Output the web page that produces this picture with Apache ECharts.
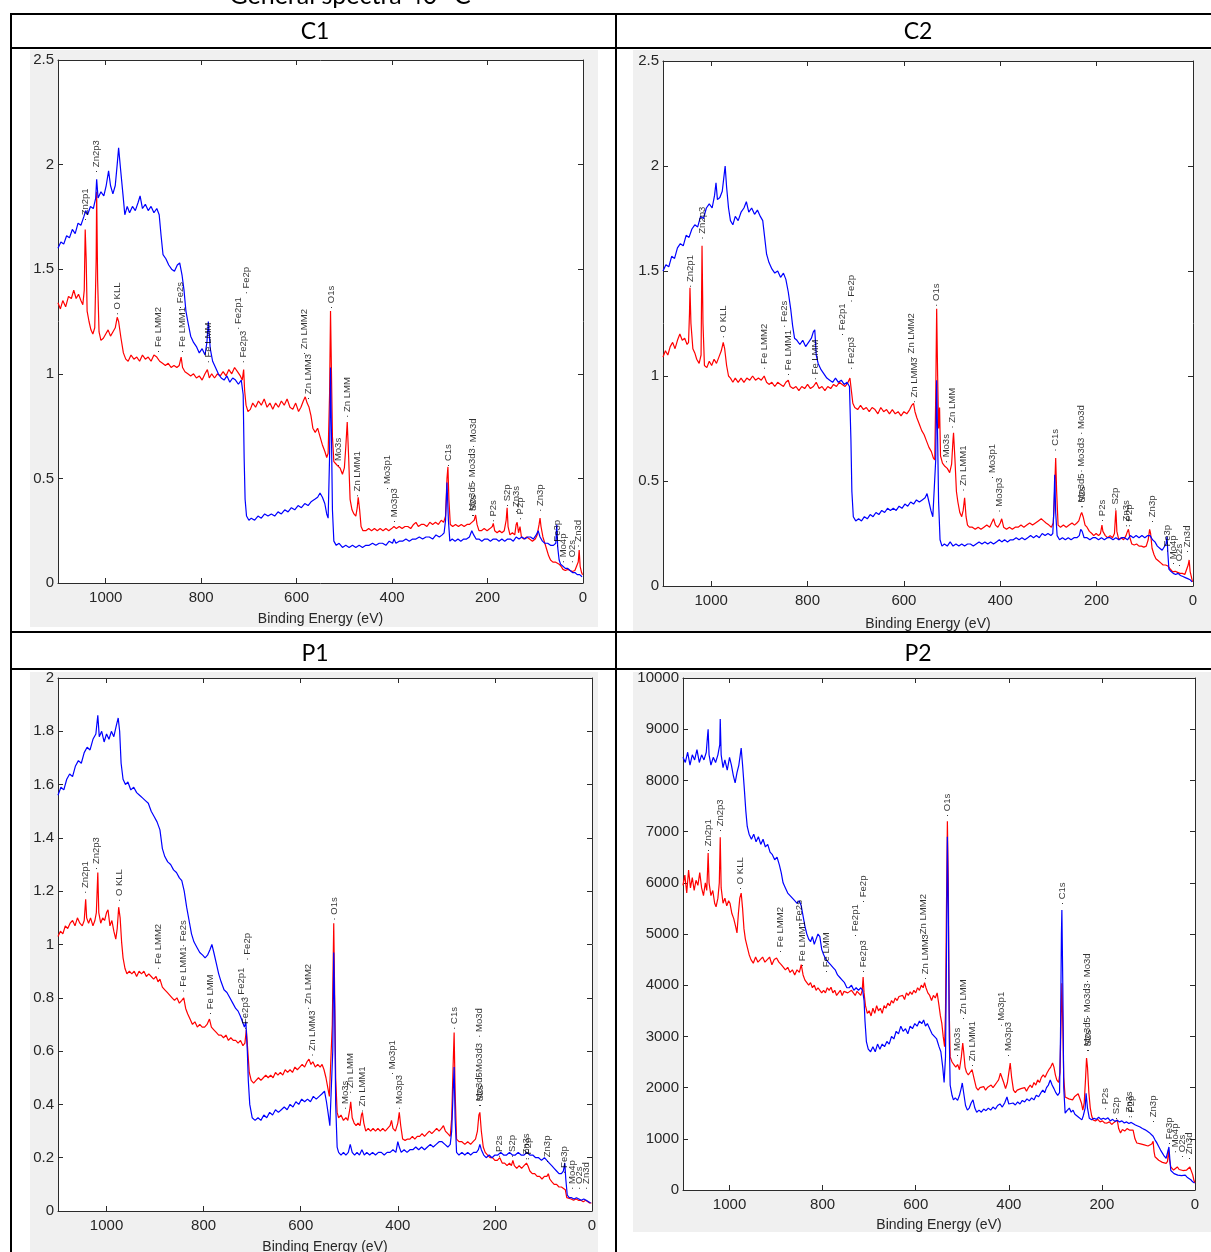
<!DOCTYPE html>
<html><head><meta charset="utf-8">
<script src="https://cdn.jsdelivr.net/npm/echarts@6/dist/echarts.min.js"></script>
<style>html,body{margin:0;padding:0;background:#fff;}#c{width:1211px;height:1252px;}</style>
</head><body><div id="c"></div>
<script>
// ---------- DATA ----------
const panelTitles = ['C1', 'C2', 'P1', 'P2'];
const xMaxEV = 1100, xStep = 200;
const yMax = [2.5, 2.5, 2, 10000];
const yStep = [0.5, 0.5, 0.2, 1000];

const peakNames = ['Zn2p1','Zn2p3','O KLL','Fe LMM2','Fe LMM1','Fe2s','Fe LMM','Fe2p1','Fe2p','Fe2p3','Zn LMM2','Zn LMM3','O1s','Mo3s','Zn LMM','Zn LMM1','Mo3p1','Mo3p3','C1s','Mo3d','Mo3d3','Mo3d5','S2s','P2s','S2p','Zn3s','P2p','Zn3p','Fe3p','Mo4p','O2s','Zn3d'];

const c1Peaks = [[1042,1.73],[1019,1.96],[975,1.28],[889,1.10],[840,1.10],[844,1.31],[785,1.05],[722,1.21],[706,1.38],[711,1.05],[584,1.09],[576,0.875],[528,1.31],[512,0.555],[494,0.79],[473,0.41],[410,0.445],[395,0.287],[283,0.555],[230,0.645],[232,0.478],[232,0.316],[230,0.316],[188,0.29],[159,0.363],[140,0.335],[132,0.30],[90,0.34],[54,0.17],[42,0.095],[23,0.095],[10,0.17]];
const c2Peaks = [[1044,1.42],[1019,1.65],[975,1.18],[889,1.03],[840,1.0],[848,1.23],[784,0.98],[727,1.19],[709,1.35],[709,1.03],[584,1.08],[578,0.87],[532,1.33],[511,0.585],[499,0.75],[476,0.45],[416,0.51],[401,0.35],[285,0.64],[231,0.72],[231,0.54],[231,0.37],[229,0.37],[189,0.305],[162,0.36],[138,0.28],[133,0.28],[85,0.30],[54,0.16],[40,0.10],[29,0.09],[12,0.157]];
const p1Peaks = [[1044,1.19],[1020,1.28],[974,1.16],[894,0.905],[842,0.82],[842,0.99],[787,0.735],[723,0.79],[709,0.94],[715,0.68],[585,0.755],[575,0.58],[531,1.09],[509,0.38],[498,0.44],[474,0.37],[412,0.51],[396,0.38],[284,0.68],[231,0.65],[231,0.50],[231,0.39],[229,0.39],[190,0.20],[163,0.20],[136,0.19],[132,0.19],[92,0.18],[56,0.14],[40,0.08],[25,0.08],[12,0.08]];
const p2Peaks = [[1046,6600],[1020,6990],[977,5860],[891,4630],[844,4355],[849,5136],[791,4238],[730,4941],[713,5605],[713,4238],[584,4883],[580,4100],[531,7285],[511,2600],[498,3320],[479,2400],[417,3190],[402,2600],[286,5565],[232,4043],[232,3360],[232,2695],[230,2695],[193,1560],[168,1367],[142,1400],[137,1400],[90,1308],[56,880],[43,720],[28,625],[13,586]];

const c1Blue = [[1100,1.60],[1094,1.63],[1088,1.62],[1082,1.66],[1076,1.65],[1070,1.69],[1064,1.67],[1058,1.72],[1052,1.71],[1046,1.75],[1042,1.78],[1038,1.76],[1032,1.80],[1026,1.79],[1021,1.84],[1019,1.93],[1016,1.84],[1010,1.87],[1004,1.85],[999,1.90],[994,1.97],[990,1.90],[985,1.86],[980,1.90],[976,2.00],[973,2.08],[969,1.98],[964,1.86],[960,1.76],[955,1.80],[950,1.77],[944,1.80],[938,1.78],[932,1.82],[928,1.85],[923,1.79],[917,1.81],[911,1.78],[905,1.80],[899,1.77],[893,1.79],[888,1.76],[884,1.66],[880,1.57],[874,1.55],[868,1.52],[862,1.50],[856,1.49],[850,1.52],[845,1.53],[840,1.47],[836,1.40],[832,1.30],[828,1.25],[822,1.18],[816,1.15],[810,1.13],[804,1.10],[798,1.12],[792,1.09],[788,1.15],[785,1.25],[781,1.12],[776,1.06],[770,1.03],[764,1.00],[758,0.98],[752,0.97],[746,0.99],[740,0.96],[734,0.98],[728,0.97],[722,0.95],[716,0.97],[712,0.90],[710,0.60],[708,0.40],[705,0.32],[700,0.30],[695,0.31],[688,0.30],[681,0.32],[674,0.31],[667,0.33],[660,0.32],[653,0.33],[646,0.32],[639,0.34],[632,0.33],[625,0.35],[618,0.34],[611,0.36],[604,0.35],[597,0.37],[590,0.36],[583,0.38],[576,0.37],[569,0.39],[562,0.40],[556,0.41],[551,0.43],[546,0.41],[541,0.38],[537,0.33],[534,0.31],[531,0.60],[529,1.03],[527,0.70],[525,0.35],[522,0.20],[517,0.18],[511,0.19],[504,0.17],[497,0.18],[490,0.17],[483,0.18],[476,0.17],[469,0.18],[462,0.17],[455,0.18],[448,0.18],[441,0.19],[434,0.18],[427,0.19],[420,0.19],[413,0.18],[406,0.20],[399,0.19],[396,0.21],[392,0.19],[385,0.20],[378,0.20],[371,0.21],[364,0.20],[357,0.21],[350,0.21],[343,0.22],[336,0.21],[329,0.22],[322,0.22],[315,0.21],[308,0.23],[301,0.22],[295,0.23],[291,0.24],[288,0.30],[285,0.48],[282,0.30],[279,0.20],[274,0.21],[268,0.20],[262,0.21],[256,0.20],[250,0.21],[244,0.21],[238,0.22],[233,0.25],[229,0.23],[224,0.21],[218,0.21],[212,0.20],[206,0.21],[200,0.21],[194,0.20],[188,0.21],[182,0.21],[176,0.20],[170,0.21],[164,0.20],[158,0.21],[152,0.21],[146,0.20],[140,0.22],[134,0.21],[128,0.22],[122,0.21],[116,0.22],[110,0.22],[104,0.21],[98,0.23],[94,0.25],[90,0.22],[85,0.20],[80,0.19],[74,0.19],[68,0.18],[62,0.18],[57,0.19],[55,0.28],[53,0.17],[50,0.11],[47,0.09],[42,0.08],[37,0.07],[32,0.07],[27,0.06],[22,0.05],[17,0.05],[12,0.04],[7,0.04],[2,0.03]];

const c1Red = [[1100,1.34],[1095,1.31],[1090,1.35],[1084,1.32],[1078,1.37],[1072,1.36],[1067,1.40],[1062,1.36],[1057,1.38],[1052,1.35],[1048,1.33],[1045,1.40],[1043,1.69],[1041,1.55],[1039,1.30],[1035,1.25],[1031,1.21],[1027,1.19],[1023,1.22],[1020,1.55],[1019,1.87],[1017,1.45],[1014,1.20],[1010,1.16],[1005,1.17],[1000,1.19],[995,1.21],[990,1.18],[985,1.20],[980,1.22],[976,1.27],[973,1.25],[968,1.17],[963,1.10],[958,1.07],[953,1.06],[947,1.09],[941,1.07],[935,1.08],[929,1.06],[923,1.09],[917,1.07],[911,1.08],[905,1.06],[899,1.09],[893,1.08],[887,1.06],[881,1.05],[875,1.04],[869,1.05],[863,1.03],[857,1.04],[851,1.03],[846,1.04],[842,1.08],[839,1.03],[834,1.01],[828,1.00],[822,0.99],[816,1.00],[810,0.98],[804,0.99],[798,0.97],[792,1.00],[787,1.02],[783,0.98],[778,1.00],[772,0.98],[766,1.00],[760,0.99],[754,1.01],[748,0.99],[742,1.02],[736,1.00],[730,1.03],[724,1.01],[718,0.99],[714,0.97],[711,1.02],[709,0.92],[706,0.85],[702,0.82],[697,0.83],[692,0.86],[686,0.84],[680,0.87],[674,0.85],[668,0.88],[662,0.84],[656,0.86],[650,0.83],[644,0.86],[638,0.84],[632,0.87],[626,0.85],[620,0.88],[614,0.84],[608,0.83],[602,0.86],[596,0.82],[591,0.84],[586,0.87],[582,0.89],[578,0.86],[574,0.84],[570,0.80],[566,0.74],[561,0.72],[556,0.74],[551,0.70],[546,0.66],[541,0.63],[537,0.60],[534,0.62],[531,0.90],[529,1.30],[527,1.00],[525,0.70],[522,0.58],[518,0.57],[514,0.56],[509,0.55],[504,0.52],[500,0.55],[497,0.65],[494,0.77],[491,0.60],[488,0.40],[484,0.35],[480,0.33],[476,0.32],[473,0.36],[471,0.41],[468,0.35],[465,0.27],[461,0.25],[455,0.25],[449,0.26],[443,0.25],[437,0.26],[431,0.25],[425,0.26],[419,0.25],[413,0.26],[407,0.25],[401,0.26],[396,0.27],[391,0.26],[385,0.27],[379,0.26],[373,0.27],[367,0.27],[361,0.26],[355,0.28],[350,0.29],[345,0.27],[339,0.28],[333,0.28],[327,0.27],[321,0.29],[315,0.28],[309,0.29],[303,0.28],[297,0.30],[292,0.29],[288,0.32],[285,0.50],[283,0.555],[281,0.40],[278,0.28],[273,0.27],[267,0.28],[261,0.27],[255,0.28],[249,0.27],[243,0.28],[238,0.28],[233,0.29],[228,0.30],[225,0.325],[222,0.28],[218,0.25],[213,0.25],[207,0.26],[201,0.25],[195,0.26],[190,0.27],[188,0.285],[185,0.25],[180,0.24],[175,0.25],[170,0.24],[165,0.25],[161,0.30],[159,0.36],[157,0.27],[153,0.23],[148,0.24],[143,0.23],[140,0.28],[138,0.29],[135,0.24],[132,0.27],[129,0.22],[124,0.21],[118,0.22],[112,0.21],[106,0.20],[100,0.21],[96,0.23],[92,0.28],[90,0.31],[88,0.27],[84,0.22],[80,0.19],[76,0.16],[72,0.13],[68,0.11],[63,0.10],[58,0.10],[54,0.095],[50,0.09],[46,0.08],[42,0.065],[37,0.06],[32,0.065],[27,0.06],[22,0.055],[17,0.06],[13,0.055],[10,0.10],[8,0.158],[6,0.08],[3,0.05],[1,0.04]];

const c2Blue = [[1100,1.50],[1094,1.53],[1088,1.52],[1082,1.57],[1076,1.56],[1070,1.61],[1064,1.63],[1058,1.62],[1052,1.67],[1046,1.66],[1040,1.70],[1034,1.72],[1028,1.71],[1022,1.76],[1016,1.75],[1010,1.80],[1004,1.82],[998,1.80],[993,1.86],[990,1.92],[987,1.84],[982,1.85],[977,1.88],[974,1.94],[971,2.00],[968,1.90],[964,1.80],[960,1.74],[955,1.72],[950,1.76],[944,1.74],[938,1.78],[932,1.80],[927,1.83],[922,1.78],[916,1.80],[910,1.77],[904,1.79],[898,1.76],[893,1.74],[889,1.66],[885,1.58],[880,1.54],[874,1.51],[868,1.49],[862,1.50],[856,1.47],[850,1.49],[845,1.46],[840,1.40],[835,1.32],[831,1.24],[827,1.18],[822,1.17],[816,1.15],[810,1.17],[804,1.14],[798,1.16],[792,1.18],[788,1.21],[785,1.22],[782,1.10],[778,1.06],[772,1.03],[766,1.01],[760,0.99],[754,0.98],[748,0.97],[742,0.99],[736,0.97],[730,0.98],[724,0.96],[718,0.97],[713,0.95],[710,0.70],[708,0.45],[705,0.33],[700,0.31],[694,0.32],[688,0.31],[682,0.33],[676,0.32],[670,0.34],[664,0.33],[658,0.35],[652,0.34],[646,0.36],[640,0.35],[634,0.37],[628,0.36],[622,0.37],[616,0.36],[610,0.38],[604,0.37],[598,0.39],[592,0.38],[586,0.40],[580,0.39],[574,0.41],[568,0.40],[562,0.41],[556,0.42],[552,0.44],[548,0.40],[544,0.36],[540,0.33],[536,0.33],[534,0.60],[532,0.98],[530,0.70],[528,0.40],[525,0.22],[521,0.19],[516,0.20],[510,0.19],[504,0.21],[498,0.19],[492,0.20],[486,0.19],[480,0.20],[474,0.19],[468,0.20],[462,0.20],[456,0.19],[450,0.20],[444,0.21],[438,0.20],[432,0.21],[426,0.20],[420,0.21],[414,0.20],[408,0.21],[402,0.22],[397,0.21],[391,0.22],[385,0.21],[379,0.22],[373,0.22],[367,0.23],[361,0.22],[355,0.23],[349,0.22],[343,0.23],[337,0.24],[331,0.23],[325,0.24],[319,0.23],[313,0.25],[307,0.24],[301,0.25],[295,0.24],[291,0.25],[289,0.35],[287,0.53],[285,0.35],[282,0.24],[277,0.22],[271,0.23],[265,0.22],[259,0.23],[253,0.22],[247,0.23],[241,0.23],[236,0.24],[233,0.27],[230,0.26],[226,0.23],[220,0.23],[214,0.22],[208,0.23],[202,0.23],[196,0.22],[190,0.23],[184,0.22],[178,0.23],[172,0.23],[166,0.22],[160,0.23],[154,0.22],[148,0.23],[142,0.23],[136,0.22],[130,0.24],[124,0.23],[118,0.24],[112,0.23],[106,0.24],[100,0.23],[94,0.24],[89,0.24],[84,0.22],[79,0.21],[74,0.19],[69,0.18],[64,0.17],[60,0.17],[56,0.20],[54,0.235],[52,0.15],[50,0.08],[46,0.07],[41,0.06],[36,0.055],[31,0.06],[26,0.05],[21,0.045],[16,0.04],[11,0.035],[6,0.03],[2,0.02]];

const c2Red = [[1100,1.09],[1095,1.12],[1090,1.10],[1085,1.14],[1080,1.16],[1075,1.13],[1070,1.17],[1065,1.20],[1060,1.17],[1055,1.18],[1050,1.15],[1047,1.16],[1045,1.30],[1044,1.42],[1042,1.25],[1038,1.13],[1034,1.11],[1030,1.08],[1025,1.06],[1021,1.10],[1019,1.62],[1017,1.25],[1014,1.05],[1009,1.04],[1004,1.07],[999,1.05],[994,1.08],[989,1.06],[984,1.09],[979,1.12],[975,1.16],[972,1.13],[968,1.05],[964,1.00],[960,0.99],[955,0.97],[950,0.99],[944,0.97],[938,0.99],[932,0.97],[926,0.99],[920,0.98],[914,1.00],[908,0.98],[902,0.99],[896,0.98],[890,1.00],[885,0.97],[880,0.96],[874,0.97],[868,0.95],[862,0.97],[856,0.96],[850,0.95],[845,0.97],[840,0.98],[836,0.95],[830,0.94],[824,0.95],[818,0.93],[812,0.95],[806,0.94],[800,0.96],[794,0.94],[788,0.95],[782,0.97],[776,0.94],[770,0.95],[764,0.93],[758,0.95],[752,0.94],[746,0.96],[740,0.95],[734,0.97],[728,0.96],[722,0.95],[716,0.97],[712,0.99],[709,0.93],[706,0.87],[702,0.85],[696,0.84],[690,0.86],[684,0.84],[678,0.85],[672,0.83],[666,0.85],[660,0.84],[654,0.82],[648,0.85],[642,0.83],[636,0.84],[630,0.82],[624,0.84],[618,0.82],[612,0.83],[606,0.81],[600,0.83],[594,0.82],[588,0.84],[584,0.86],[580,0.87],[577,0.83],[573,0.80],[568,0.77],[563,0.74],[558,0.72],[553,0.69],[548,0.66],[543,0.64],[539,0.61],[536,0.60],[534,0.90],[532,1.32],[530,1.00],[528,0.75],[526,0.85],[524,0.62],[520,0.585],[515,0.57],[510,0.56],[505,0.54],[501,0.58],[498,0.70],[497,0.73],[494,0.60],[491,0.45],[488,0.40],[484,0.35],[480,0.33],[477,0.36],[474,0.42],[471,0.33],[468,0.29],[464,0.28],[458,0.28],[452,0.27],[446,0.28],[440,0.27],[434,0.28],[428,0.29],[422,0.28],[418,0.30],[414,0.32],[410,0.29],[405,0.28],[400,0.30],[397,0.32],[393,0.28],[387,0.27],[381,0.28],[375,0.27],[369,0.28],[363,0.28],[357,0.29],[351,0.28],[345,0.29],[339,0.30],[333,0.29],[327,0.30],[321,0.31],[315,0.32],[310,0.31],[305,0.30],[299,0.29],[294,0.28],[290,0.30],[288,0.40],[285,0.61],[283,0.45],[280,0.29],[275,0.28],[269,0.29],[263,0.28],[257,0.29],[251,0.30],[246,0.29],[241,0.30],[237,0.31],[233,0.34],[231,0.35],[228,0.33],[224,0.29],[220,0.28],[215,0.26],[210,0.25],[206,0.24],[201,0.25],[196,0.24],[192,0.25],[189,0.29],[187,0.26],[182,0.24],[177,0.23],[172,0.24],[167,0.23],[163,0.25],[161,0.33],[160,0.36],[158,0.26],[154,0.22],[149,0.23],[144,0.22],[139,0.24],[136,0.26],[134,0.27],[131,0.23],[127,0.20],[122,0.195],[117,0.20],[112,0.19],[107,0.19],[102,0.185],[97,0.19],[93,0.22],[90,0.27],[88,0.25],[85,0.18],[81,0.15],[77,0.13],[72,0.12],[67,0.11],[62,0.10],[57,0.10],[52,0.095],[47,0.08],[42,0.067],[37,0.07],[32,0.065],[27,0.06],[22,0.06],[17,0.055],[13,0.06],[10,0.10],[8,0.124],[6,0.07],[3,0.04],[1,0.02]];

const p1Blue = [[1100,1.56],[1094,1.59],[1088,1.58],[1082,1.62],[1076,1.64],[1070,1.63],[1064,1.67],[1058,1.69],[1052,1.68],[1046,1.72],[1040,1.74],[1034,1.73],[1028,1.77],[1022,1.79],[1018,1.86],[1015,1.78],[1010,1.80],[1005,1.76],[1000,1.79],[995,1.77],[990,1.80],[985,1.78],[980,1.82],[976,1.85],[973,1.80],[970,1.68],[966,1.62],[961,1.60],[956,1.61],[950,1.58],[944,1.59],[938,1.57],[932,1.56],[926,1.55],[920,1.54],[914,1.53],[908,1.50],[902,1.48],[896,1.46],[890,1.43],[885,1.36],[880,1.33],[874,1.31],[868,1.30],[862,1.28],[856,1.27],[850,1.25],[845,1.24],[840,1.20],[835,1.14],[830,1.09],[825,1.04],[820,1.01],[814,0.99],[808,0.97],[802,0.96],[797,0.95],[792,0.96],[787,0.98],[783,1.00],[779,0.97],[774,0.93],[769,0.89],[764,0.86],[758,0.83],[752,0.82],[746,0.80],[740,0.78],[734,0.76],[729,0.75],[724,0.73],[720,0.71],[716,0.69],[713,0.71],[710,0.60],[708,0.49],[705,0.40],[700,0.35],[694,0.34],[688,0.35],[682,0.34],[676,0.36],[670,0.35],[664,0.37],[658,0.36],[652,0.38],[646,0.37],[640,0.38],[634,0.39],[628,0.38],[622,0.40],[616,0.39],[610,0.41],[604,0.40],[598,0.42],[592,0.41],[586,0.42],[580,0.41],[574,0.43],[568,0.42],[562,0.43],[556,0.44],[551,0.45],[547,0.41],[543,0.36],[540,0.32],[537,0.32],[534,0.60],[532,0.97],[530,0.75],[528,0.40],[525,0.24],[522,0.22],[517,0.21],[512,0.22],[507,0.21],[502,0.22],[498,0.25],[494,0.22],[489,0.21],[484,0.22],[479,0.21],[474,0.23],[469,0.21],[464,0.22],[458,0.21],[452,0.22],[446,0.21],[440,0.22],[434,0.22],[428,0.21],[422,0.22],[416,0.22],[410,0.23],[404,0.22],[400,0.26],[397,0.24],[393,0.22],[387,0.23],[381,0.22],[375,0.23],[369,0.23],[363,0.24],[357,0.23],[351,0.24],[345,0.23],[339,0.24],[333,0.25],[327,0.24],[321,0.25],[315,0.26],[309,0.26],[303,0.25],[297,0.24],[292,0.25],[289,0.30],[286,0.45],[284,0.54],[282,0.35],[279,0.22],[274,0.21],[268,0.22],[262,0.21],[256,0.22],[250,0.21],[244,0.22],[238,0.22],[234,0.23],[231,0.25],[228,0.23],[223,0.21],[218,0.20],[212,0.21],[206,0.20],[200,0.21],[194,0.21],[188,0.22],[182,0.21],[176,0.21],[170,0.22],[164,0.21],[158,0.21],[152,0.22],[146,0.21],[140,0.21],[134,0.22],[128,0.21],[122,0.21],[116,0.20],[110,0.20],[104,0.19],[98,0.20],[93,0.19],[88,0.18],[83,0.17],[78,0.16],[73,0.15],[68,0.14],[63,0.14],[59,0.15],[56,0.18],[54,0.12],[51,0.06],[47,0.05],[42,0.05],[37,0.045],[32,0.05],[27,0.045],[22,0.04],[17,0.045],[12,0.04],[7,0.035],[3,0.03]];

const p1Red = [[1100,1.03],[1095,1.05],[1090,1.04],[1085,1.07],[1080,1.06],[1075,1.08],[1070,1.09],[1065,1.07],[1060,1.10],[1055,1.08],[1050,1.07],[1046,1.09],[1043,1.17],[1041,1.10],[1037,1.08],[1033,1.10],[1028,1.07],[1024,1.09],[1021,1.12],[1018,1.27],[1016,1.12],[1012,1.08],[1008,1.10],[1004,1.09],[1000,1.12],[997,1.13],[993,1.07],[989,1.09],[985,1.05],[981,1.02],[978,1.06],[975,1.14],[972,1.10],[969,1.01],[966,0.95],[962,0.91],[958,0.89],[953,0.90],[948,0.89],[943,0.90],[938,0.88],[933,0.90],[928,0.89],[923,0.90],[918,0.88],[913,0.89],[908,0.88],[903,0.87],[898,0.88],[894,0.86],[890,0.87],[885,0.84],[880,0.83],[875,0.82],[870,0.81],[865,0.80],[860,0.79],[855,0.80],[850,0.78],[845,0.79],[841,0.80],[837,0.76],[833,0.74],[828,0.72],[823,0.70],[818,0.71],[813,0.69],[808,0.70],[803,0.69],[798,0.69],[793,0.70],[788,0.72],[784,0.69],[779,0.68],[774,0.67],[769,0.66],[764,0.66],[759,0.65],[754,0.66],[749,0.64],[744,0.65],[739,0.64],[734,0.64],[729,0.63],[724,0.64],[719,0.62],[715,0.63],[712,0.68],[709,0.60],[706,0.52],[702,0.49],[697,0.48],[692,0.49],[687,0.50],[682,0.49],[677,0.50],[672,0.51],[667,0.50],[662,0.51],[657,0.50],[652,0.52],[647,0.51],[642,0.52],[637,0.51],[632,0.53],[627,0.52],[622,0.53],[617,0.52],[612,0.54],[607,0.53],[602,0.54],[597,0.55],[592,0.54],[587,0.56],[583,0.57],[579,0.55],[575,0.56],[570,0.54],[565,0.55],[560,0.54],[556,0.55],[552,0.53],[548,0.50],[544,0.46],[541,0.43],[538,0.43],[535,0.70],[532,1.08],[530,0.80],[528,0.50],[525,0.37],[522,0.35],[517,0.36],[512,0.34],[507,0.35],[503,0.34],[499,0.38],[497,0.41],[494,0.35],[490,0.33],[486,0.32],[482,0.33],[478,0.32],[475,0.36],[473,0.37],[470,0.33],[466,0.30],[461,0.31],[456,0.30],[451,0.31],[446,0.30],[441,0.31],[436,0.30],[431,0.31],[426,0.30],[421,0.31],[416,0.32],[413,0.34],[410,0.31],[405,0.30],[400,0.33],[397,0.37],[394,0.32],[390,0.27],[385,0.265],[380,0.27],[375,0.27],[370,0.28],[365,0.27],[360,0.28],[355,0.28],[350,0.29],[345,0.28],[340,0.29],[335,0.30],[330,0.29],[325,0.30],[320,0.31],[315,0.30],[310,0.31],[306,0.32],[302,0.30],[297,0.29],[292,0.28],[289,0.35],[286,0.55],[284,0.67],[282,0.45],[279,0.27],[274,0.26],[268,0.26],[262,0.25],[256,0.26],[250,0.25],[245,0.26],[240,0.27],[236,0.30],[233,0.36],[231,0.37],[228,0.30],[224,0.24],[220,0.22],[215,0.21],[210,0.20],[205,0.20],[200,0.19],[195,0.19],[190,0.20],[185,0.18],[180,0.18],[175,0.17],[170,0.18],[166,0.17],[163,0.19],[160,0.17],[155,0.16],[150,0.17],[145,0.16],[140,0.17],[135,0.18],[132,0.17],[128,0.15],[123,0.14],[118,0.14],[113,0.13],[108,0.13],[103,0.12],[98,0.13],[93,0.13],[90,0.14],[87,0.12],[83,0.11],[78,0.10],[73,0.10],[68,0.09],[63,0.09],[59,0.095],[55,0.08],[52,0.05],[48,0.045],[43,0.045],[38,0.04],[33,0.045],[28,0.04],[23,0.04],[18,0.035],[13,0.04],[9,0.035],[5,0.03],[1,0.03]];

const p2Blue = [[1100,8450],[1095,8350],[1090,8550],[1085,8300],[1080,8500],[1075,8400],[1070,8600],[1065,8350],[1060,8500],[1055,8400],[1050,8550],[1047,8900],[1046,9000],[1044,8500],[1040,8300],[1035,8450],[1030,8350],[1025,8500],[1021,8700],[1020,9200],[1018,8500],[1014,8250],[1010,8400],[1005,8200],[1000,8450],[996,8300],[992,8100],[988,7950],[984,8150],[980,8300],[977,8500],[975,8630],[972,8300],[968,7800],[965,7400],[962,7100],[958,6950],[953,6850],[948,6950],[943,6800],[938,6900],[933,6750],[928,6850],[923,6700],[918,6750],[913,6600],[908,6550],[903,6450],[898,6500],[893,6350],[889,6200],[885,6000],[880,5900],[875,5800],[870,5750],[865,5700],[860,5650],[855,5600],[850,5650],[846,5550],[842,5350],[838,5150],[834,5000],[830,4900],[826,4850],[822,4950],[818,4800],[814,4900],[810,5000],[806,4950],[802,4700],[798,4600],[793,4500],[788,4450],[783,4400],[778,4350],[773,4300],[768,4200],[763,4150],[758,4100],[753,4050],[748,3950],[743,3950],[738,4000],[733,3900],[728,3950],[723,3900],[718,3950],[714,3900],[711,3700],[709,3300],[706,2900],[702,2750],[697,2700],[692,2800],[687,2700],[682,2850],[677,2750],[672,2850],[667,2800],[662,2900],[657,2850],[652,3000],[647,2950],[642,3100],[637,3050],[632,3200],[627,3100],[622,3150],[617,3050],[612,3200],[607,3150],[602,3250],[597,3200],[592,3300],[587,3250],[583,3320],[579,3200],[575,3250],[570,3150],[565,3050],[560,3000],[555,2950],[550,2800],[546,2700],[542,2400],[539,2100],[536,2600],[534,4500],[532,6900],[530,5500],[528,3000],[526,2050],[522,1850],[519,1760],[515,1800],[510,1750],[506,1850],[502,2000],[500,2090],[497,1900],[493,1650],[489,1560],[485,1600],[481,1700],[477,1760],[473,1600],[469,1520],[464,1560],[459,1520],[454,1580],[449,1550],[444,1600],[439,1560],[434,1620],[429,1580],[424,1650],[419,1680],[414,1620],[409,1700],[404,1816],[400,1680],[396,1650],[391,1700],[386,1660],[381,1720],[376,1680],[371,1750],[366,1720],[361,1780],[356,1740],[351,1800],[346,1760],[341,1850],[336,1820],[331,1900],[327,1950],[323,1900],[319,2000],[315,2050],[311,2150],[307,2050],[303,1980],[299,1900],[295,1850],[291,1900],[289,3000],[287,5000],[286,5470],[284,4000],[282,2000],[279,1500],[275,1550],[270,1600],[266,1520],[262,1560],[258,1480],[254,1500],[250,1420],[246,1450],[243,1370],[240,1450],[236,1600],[234,1890],[231,1600],[227,1400],[222,1370],[217,1400],[212,1380],[207,1420],[202,1380],[197,1400],[192,1380],[187,1410],[182,1350],[177,1380],[172,1340],[167,1360],[162,1330],[157,1350],[152,1310],[147,1330],[142,1300],[137,1320],[133,1300],[128,1270],[123,1250],[118,1230],[113,1200],[108,1180],[103,1150],[98,1120],[94,1110],[90,1050],[86,980],[82,920],[78,850],[74,780],[70,720],[66,660],[62,620],[58,590],[56,840],[54,600],[52,380],[49,350],[45,320],[41,300],[37,290],[33,310],[29,280],[25,270],[21,290],[17,250],[13,230],[9,200],[5,160],[1,137]];

const p2Red = [[1100,5950],[1096,6150],[1092,5800],[1088,6250],[1084,5900],[1080,6100],[1076,5850],[1072,6050],[1068,5950],[1064,6200],[1060,5900],[1056,5750],[1052,6000],[1049,5850],[1047,6300],[1046,6580],[1044,6000],[1040,5750],[1036,5850],[1032,5600],[1029,5530],[1025,5700],[1022,6000],[1020,6890],[1018,5900],[1014,5600],[1010,5700],[1006,5550],[1002,5650],[999,5600],[995,5400],[991,5300],[987,5150],[984,5020],[981,5400],[978,5700],[975,5800],[972,5500],[969,5100],[966,4900],[962,4750],[958,4600],[954,4500],[949,4430],[944,4550],[939,4450],[934,4500],[929,4550],[924,4450],[919,4500],[914,4550],[909,4400],[904,4500],[899,4530],[894,4450],[889,4400],[885,4356],[880,4300],[875,4350],[870,4250],[865,4300],[860,4200],[855,4300],[850,4250],[846,4400],[842,4200],[838,4100],[834,4050],[830,4000],[826,4050],[822,3950],[818,4000],[814,3900],[810,3950],[806,3900],[802,3850],[798,3900],[794,3850],[790,3950],[786,3900],[782,3960],[778,3850],[774,3900],[770,3800],[766,3850],[762,3900],[758,3800],[754,3880],[750,3900],[746,3850],[742,3820],[738,3900],[734,3850],[730,3800],[726,3880],[722,3850],[718,3800],[715,3900],[713,4160],[711,3850],[708,3600],[704,3450],[700,3500],[696,3400],[692,3550],[688,3450],[684,3600],[680,3500],[676,3550],[672,3450],[668,3600],[664,3550],[660,3650],[656,3600],[652,3700],[648,3650],[644,3750],[640,3700],[636,3780],[632,3750],[628,3800],[624,3720],[620,3850],[616,3800],[612,3870],[608,3820],[604,3900],[600,3850],[596,3950],[592,3900],[588,4000],[584,3950],[581,4050],[578,3950],[574,3850],[570,3800],[566,3700],[562,3800],[558,3750],[554,3850],[550,3600],[547,3400],[544,3260],[541,3000],[538,2800],[536,3500],[534,5500],[532,7200],[530,6000],[528,3500],[526,2600],[522,2500],[518,2450],[514,2400],[510,2450],[506,2350],[502,2600],[499,2870],[497,2700],[494,2400],[491,2300],[487,2250],[483,2300],[479,2350],[477,2340],[474,2150],[470,2000],[466,1950],[462,2000],[458,1980],[454,2020],[450,1950],[446,2000],[442,1980],[438,2050],[434,2000],[430,2050],[426,2100],[422,2150],[418,2280],[414,2300],[411,2100],[407,1980],[403,2100],[399,2350],[397,2480],[394,2200],[390,1950],[386,1900],[382,1950],[378,1930],[374,1980],[370,1950],[366,2000],[362,1930],[358,2000],[354,2050],[350,2000],[346,2100],[342,2050],[338,2150],[334,2100],[330,2200],[326,2250],[322,2200],[318,2285],[314,2350],[310,2400],[306,2480],[303,2400],[300,2250],[297,2150],[293,2100],[290,2300],[288,3200],[286,4040],[284,3200],[282,2200],[279,1816],[275,1850],[271,1780],[267,1800],[263,1760],[259,1820],[255,1850],[251,1880],[247,1894],[244,1700],[241,1560],[238,1700],[235,2200],[233,2578],[231,2400],[228,1900],[225,1600],[222,1450],[219,1367],[214,1350],[209,1380],[204,1330],[199,1350],[194,1310],[189,1308],[184,1330],[179,1280],[174,1320],[170,1300],[167,1367],[164,1200],[160,1113],[156,1180],[151,1150],[146,1200],[141,1170],[137,1200],[133,1170],[129,1000],[125,918],[121,950],[117,900],[113,920],[109,880],[105,900],[101,860],[97,840],[93,900],[90,950],[88,750],[86,650],[82,620],[78,580],[74,560],[70,540],[66,530],[62,520],[59,560],[57,780],[55,600],[52,450],[49,420],[46,390],[42,420],[38,450],[34,400],[30,420],[26,380],[22,400],[18,390],[14,420],[11,450],[8,420],[5,300],[2,180],[0,137]];

// ---------- CHART ----------
const redSets = [c1Red, c2Red, p1Red, p2Red];
const blueSets = [c1Blue, c2Blue, p1Blue, p2Blue];
const peakSets = [c1Peaks, c2Peaks, p1Peaks, p2Peaks];

const layouts = [
  {grid:{left:58, top:60, width:525, height:523}, bg:[30,50,568,577], head:[315,32], fs:15, nameGap:29},
  {grid:{left:663, top:61, width:530, height:525}, bg:[633,50,578,582], head:[918,32], fs:15, nameGap:31},
  {grid:{left:58, top:678, width:534, height:533}, bg:[30,672,568,580], head:[315,654], fs:15, nameGap:29},
  {grid:{left:683, top:678, width:512, height:512}, bg:[633,672,578,560], head:[918,654], fs:15, nameGap:28}
];
const AX = '#2b2b2b';
const FF = '"Liberation Sans", Arial, sans-serif';

const grids = [], xAxes = [], yAxes = [], series = [], graphics = [];
layouts.forEach((L, i) => {
  grids.push(Object.assign({show:true, backgroundColor:'#ffffff', borderWidth:0, containLabel:false, outerBoundsMode:'none'}, L.grid));
  const tick = {show:true, inside:true, length:5, lineStyle:{color:AX, width:1}};
  const line = {show:true, onZero:false, lineStyle:{color:AX, width:1}};
  xAxes.push({gridIndex:i, type:'value', position:'bottom', min:0, max:xMaxEV, interval:xStep, inverse:true,
    name:'Binding Energy (eV)', nameLocation:'middle', nameGap:L.nameGap,
    nameTextStyle:{fontSize:14, color:'#262626', fontFamily:FF},
    axisLine:line, axisTick:tick, splitLine:{show:false},
    axisLabel:{fontSize:L.fs, color:'#262626', fontFamily:FF, margin:7, showMaxLabel:false, formatter:v=>String(v)}});
  xAxes.push({gridIndex:i, type:'value', position:'top', min:0, max:xMaxEV, interval:xStep, inverse:true,
    axisLine:line, axisTick:tick, splitLine:{show:false}, axisLabel:{show:false}});
  yAxes.push({gridIndex:i, type:'value', position:'left', min:0, max:yMax[i], interval:yStep[i],
    axisLine:line, axisTick:tick, splitLine:{show:false},
    axisLabel:{fontSize:L.fs, color:'#262626', fontFamily:FF, margin:4, formatter:v=>String(v)}});
  yAxes.push({gridIndex:i, type:'value', position:'right', min:0, max:yMax[i], interval:yStep[i],
    axisLine:line, axisTick:tick, splitLine:{show:false}, axisLabel:{show:false}});

  series.push({type:'line', xAxisIndex:2*i, yAxisIndex:2*i, data:redSets[i], symbol:'none', showSymbol:false,
    lineStyle:{color:'#ff0000', width:1.2}, itemStyle:{color:'#ff0000'}, silent:true, z:2});
  series.push({type:'line', xAxisIndex:2*i, yAxisIndex:2*i, data:blueSets[i], symbol:'none', showSymbol:false,
    lineStyle:{color:'#0000ff', width:1.2}, itemStyle:{color:'#0000ff'}, silent:true, z:3});
  series.push({type:'scatter', xAxisIndex:2*i, yAxisIndex:2*i,
    data: peakSets[i].map((p,k)=>({name:peakNames[k], value:p})),
    symbolSize:1, itemStyle:{color:'rgba(0,0,0,0)'}, silent:true, z:5,
    label:{show:true, formatter:'· {b}', position:'inside', rotate:90, align:'left', verticalAlign:'middle',
      fontSize:9.5, color:'#000', fontFamily:FF}});

  graphics.push({type:'rect', z:-100, shape:{x:L.bg[0], y:L.bg[1], width:L.bg[2], height:L.bg[3]}, style:{fill:'#f0f0f0'}});
  graphics.push({type:'text', z:50, x:L.head[0], y:L.head[1],
    style:{text:panelTitles[i], fontSize:23, fontFamily:'Lato, "Open Sans", sans-serif', fill:'#000', align:'center', verticalAlign:'middle'}});
});

// table lines
const hl = (y) => ({type:'line', z:60, shape:{x1:10, y1:y, x2:1211, y2:y}, style:{stroke:'#000', lineWidth:2}});
const vl = (x) => ({type:'line', z:60, shape:{x1:x, y1:14, x2:x, y2:1252}, style:{stroke:'#000', lineWidth:2}});
graphics.push(hl(14), hl(48), hl(632), hl(669), vl(11), vl(616));
graphics.push({type:'text', z:50, x:350, y:-4,
  style:{text:'General spectra 40 °C', fontSize:25, fontFamily:'Lato, "Open Sans", sans-serif', fill:'#000', align:'center', verticalAlign:'middle'}});

const chart = echarts.init(document.getElementById('c'), null, {renderer:'canvas'});
chart.setOption({
  animation:false,
  backgroundColor:'#ffffff',
  grid:grids, xAxis:xAxes, yAxis:yAxes, series:series, graphic:graphics
});
</script>
</body></html>
